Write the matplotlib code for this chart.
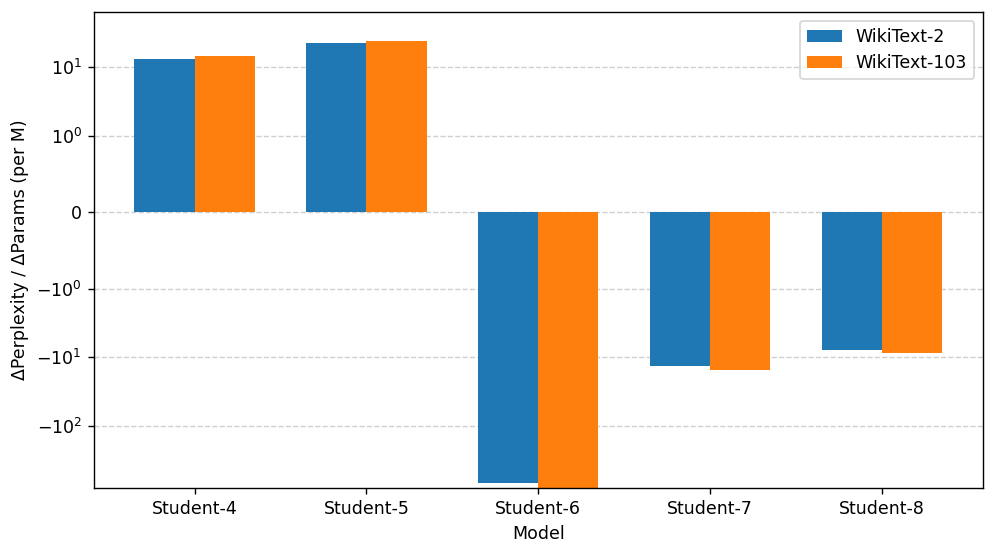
import numpy as np
import matplotlib.pyplot as plt

models = ['Student-4', 'Student-5', 'Student-6', 'Student-7', 'Student-8']
wikitext2 = [13.2, 22.3, -668, -13.2, -7.9]
wikitext103 = [14.3, 23.8, -850, -15.5, -8.65]

x = np.arange(len(models))
width = 0.35

fig, ax = plt.subplots(figsize=(996 / 125, 554 / 125), dpi=125)
fig.subplots_adjust(left=0.0944, right=0.9866, top=0.978, bottom=0.1197)

ax.bar(x - width / 2, wikitext2, width, label='WikiText-2', color='#1f77b4')
ax.bar(x + width / 2, wikitext103, width, label='WikiText-103', color='#ff7f0e')

ax.set_yscale('symlog', linthresh=1)
ax.set_ylim(-790, 63)
ax.set_xticks(x)
ax.set_xticklabels(models)
ax.set_xlabel('Model')
ax.set_ylabel('ΔPerplexity / ΔParams (per M)')
ax.grid(axis='y', linestyle='--', alpha=0.6)
ax.set_axisbelow(True)
ax.legend(loc='upper right')

plt.savefig('out.png')
